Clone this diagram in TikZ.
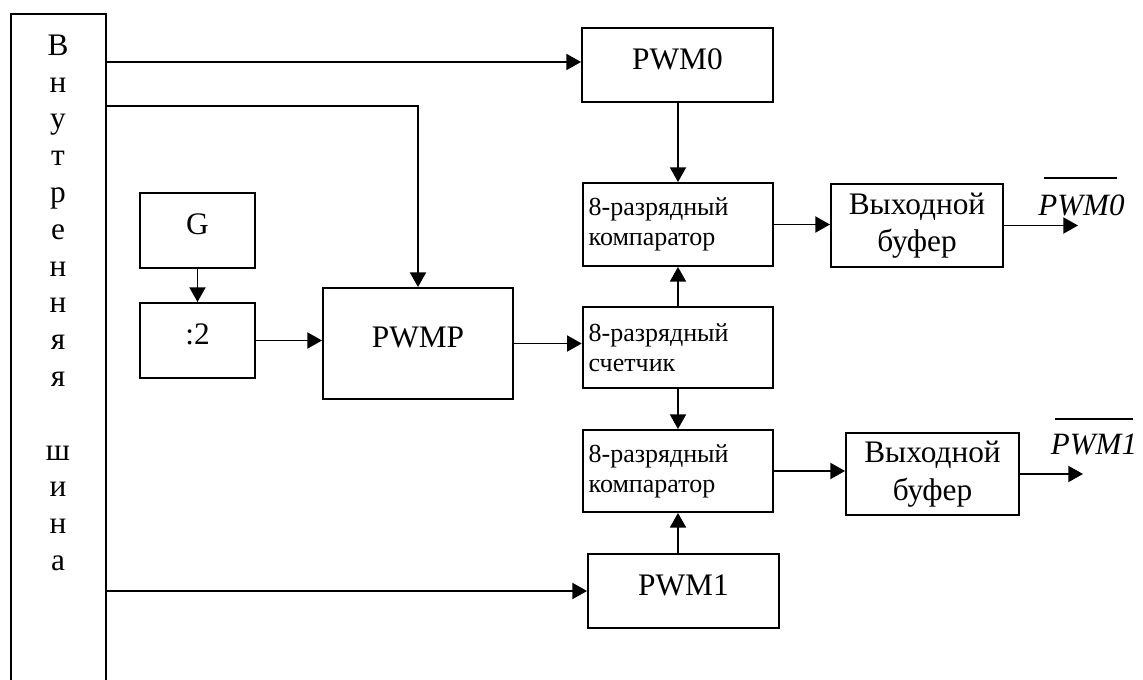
\documentclass[tikz,border=0pt]{standalone}
\usepackage{fontspec}
\setmainfont{Liberation Serif}
\usetikzlibrary{arrows.meta,calc}
\begin{document}
\begin{tikzpicture}[x=0.75pt,y=-0.75pt,
  lw/.style={line width=1.45pt},
  blk/.style={draw,lw,rectangle,inner sep=0pt,font=\fontsize{23.5pt}{28pt}\selectfont},
  upshift/.style={text height=16pt,text depth=9.6pt},
  cmpbox/.style={draw,lw,rectangle,inner xsep=4.5pt,inner ysep=0pt,align=left,text width=134pt,
     font=\fontsize{19.5pt}{22.5pt}\selectfont},
  bufbox/.style={draw,lw,rectangle,inner sep=0pt,align=center,
     font=\fontsize{23.5pt}{28pt}\selectfont},
  arr/.style={lw,-{Triangle[length=11pt,width=12pt]}},
  outlbl/.style={inner sep=0pt,anchor=base,font=\fontsize{23.25pt}{28pt}\selectfont\itshape},
  bar/.style={line width=1.3pt}
]
\useasboundingbox (0,0) rectangle (1143,680);

% internal bus
\node[draw,lw,rectangle,inner sep=0pt,minimum width=71.25pt,minimum height=501pt] (bus) at (58.5,348) {};
\node[inner sep=0pt,anchor=north,align=center,font=\fontsize{23.5pt}{27.6pt}\selectfont] (busl) at (58,34.5)
  {В\\н\\у\\т\\р\\е\\н\\н\\я\\я\\\mbox{}\\ш\\и\\н\\а};

% blocks
\node[blk,upshift,minimum width=143.25pt,minimum height=55.5pt] (pwm0) at (677.5,65) {PWM0};
\node[blk,upshift,minimum width=86.25pt,minimum height=56.25pt] (g) at (197.5,230.5) {G};
\node[blk,upshift,minimum width=86.25pt,minimum height=56.25pt] (div) at (197.5,340.5) {:2};
\node[blk,upshift,minimum width=142.5pt,minimum height=83.25pt] (pwmp) at (418,343.5) {PWMP};
\node[blk,upshift,minimum width=143.25pt,minimum height=55.5pt] (pwm1) at (683.5,591) {PWM1};

\node[cmpbox,minimum width=142.5pt,minimum height=62.25pt] (cmp0) at (678,224.5) {8-разрядный\\компаратор};
\node[cmpbox,minimum width=142.5pt,minimum height=60.75pt] (cnt) at (678,347.5) {8-разрядный\\счетчик};
\node[cmpbox,minimum width=142.5pt,minimum height=61.5pt] (cmp1) at (678,471) {8-разрядный\\компаратор};

\node[bufbox,minimum width=129pt,minimum height=62.25pt] (buf0) at (917,225.5) {Выходной\\буфер};
\node[bufbox,minimum width=129.75pt,minimum height=61.5pt] (buf1) at (932.5,474) {Выходной\\буфер};

% output labels
\node[outlbl] (o0) at (1081.5,216) {PWM0};
\node[outlbl] (o1) at (1094,455) {PWM1};
\draw[bar] ([xshift=4.5pt,yshift=13pt]o0.north west) -- ([xshift=-6pt,yshift=13pt]o0.north east);
\draw[bar] ([xshift=3.5pt,yshift=11.5pt]o1.north west) -- ([xshift=-3pt,yshift=11.5pt]o1.north east);

\coordinate (out0) at (1078,225.5);
\coordinate (out1) at (1083,472);
\coordinate (j) at (418,106);
\coordinate (t0) at (106,62);

% connectors
\draw[arr] (t0) -- (t0 -| pwm0.west);
\draw[arr] (bus.east |- j) -- (j) -- (pwmp.north);
\draw[arr] (bus.east |- pwm1.west) -- (pwm1.west);
\draw[arr] (g.south) -- (div.north);
\draw[arr] (div.east) -- (div.east -| pwmp.west);
\draw[arr] (pwmp.east) -- (pwmp.east -| cnt.west);
\draw[arr] (pwm0.south -| cmp0.north) -- (cmp0.north);
\draw[arr] (cnt.north) -- (cmp0.south);
\draw[arr] (cnt.south) -- (cmp1.north);
\draw[arr] (cmp1.south |- pwm1.north) -- (cmp1.south);
\draw[arr] (cmp0.east) -- (cmp0.east -| buf0.west);
\draw[arr] (cmp1.east) -- (cmp1.east -| buf1.west);
\draw[arr] (buf0.east) -- (buf0.east -| out0);
\draw[arr] (buf1.east) -- (buf1.east -| out1);
\end{tikzpicture}
\end{document}
